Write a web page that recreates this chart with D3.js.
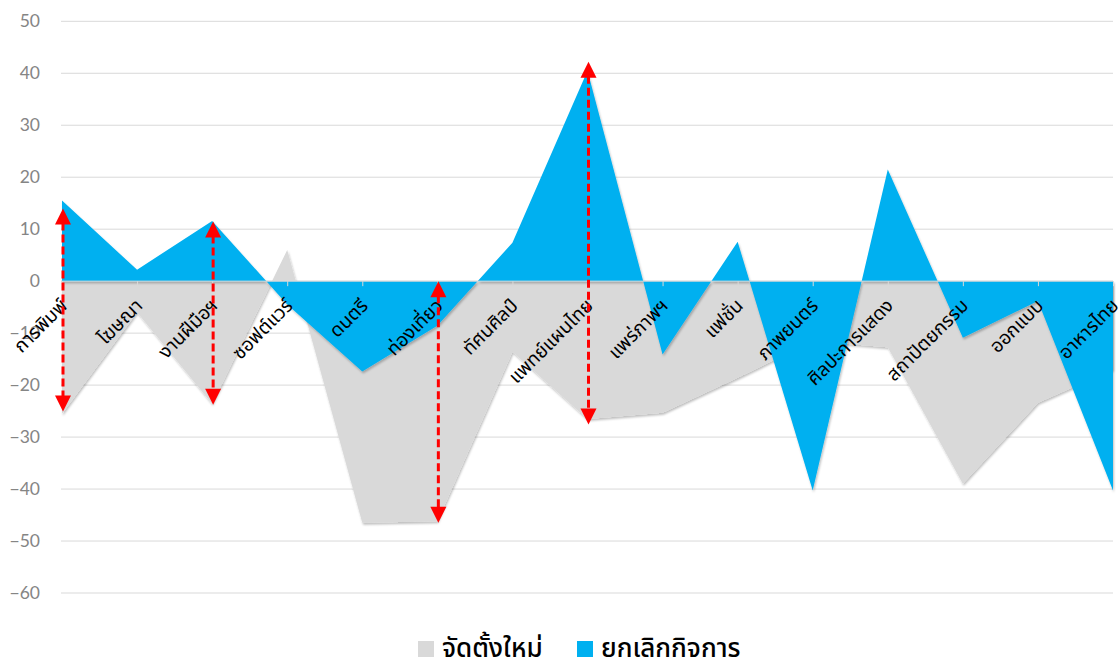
<!DOCTYPE html>
<html>
<head>
<meta charset="utf-8">
<script src="https://cdn.jsdelivr.net/npm/d3@7"></script>
<style>
  html, body { margin: 0; padding: 0; background: #fff; }
  svg { display: block; }
  text { font-family: "Noto Sans Thai", "Noto Sans Thai Looped", "Loma", "Garuda", "Noto Sans", "DejaVu Sans", sans-serif; }
</style>
</head>
<body>
<svg id="chart" width="1118" height="660"></svg>
<script>
// ---- data ----
const categories = ["การพิมพ์", "โฆษณา", "งานฝีมือฯ", "ซอฟต์แวร์", "ดนตรี", "ท่องเที่ยว", "ทัศนศิลป์", "แพทย์แผนไทย", "แพร่ภาพฯ", "แฟชั่น", "ภาพยนตร์", "ศิลปะการแสดง", "สถาปัตยกรรม", "ออกแบบ", "อาหารไทย"];
const newBusiness = [-25.5, -6, -23.6, 6, -46.5, -46.2, -13.6, -26.5, -25.3, -18.6, -11.5, -12.7, -39, -23.4, -17];
const closedBusiness = [15.5, 2.2, 11.6, -4.5, -17.4, -8.6, 7.4, 40.5, -14.1, 7.6, -40.3, 21.5, -10.9, -3.8, -40.3];
const seriesNames = ["จัดตั้งใหม่", "ยกเลิกกิจการ"];
const yTicks = [50, 40, 30, 20, 10, 0, -10, -20, -30, -40, -50, -60];
// annotation arrows (dashed, double-headed)
const arrowCategories = ["การพิมพ์", "งานฝีมือฯ", "ท่องเที่ยว", "แพทย์แผนไทย"];
const arrowTop = [14, 11.5, 0, 42.2];
const arrowBottom = [-25.1, -23.8, -46.5, -27.6];

// ---- layout ----
const svg = d3.select("#chart");
const colors = ["#D9D9D9", "#00B0F0"];

const x = d3.scalePoint().domain(categories).range([62, 1113]).padding(0);
const y = d3.scaleLinear().domain([-60, 50]).range([593, 21.3]);

const defs = svg.append("defs");
const f = defs.append("filter").attr("id", "shadow").attr("x", "-5%").attr("y", "-5%").attr("width", "110%").attr("height", "115%");
f.append("feDropShadow").attr("dx", 1).attr("dy", 2).attr("stdDeviation", 1.2).attr("flood-color", "#000").attr("flood-opacity", 0.25);

// gridlines
svg.append("g").selectAll("line").data(yTicks).join("line")
  .attr("x1", 61).attr("x2", 1113)
  .attr("y1", d => y(d)).attr("y2", d => y(d))
  .attr("stroke", "#D9D9D9").attr("stroke-width", 1);

// y axis labels
const yAxis = d3.axisLeft(y).tickValues(yTicks).tickSize(0).tickPadding(0)
  .tickFormat(d => d < 0 ? "−" + Math.abs(d) : String(d));
const gy = svg.append("g").attr("transform", "translate(40,0)").call(yAxis);
gy.select(".domain").remove();
gy.selectAll("text").attr("fill", "#858585").attr("font-size", 17.5)
  .style("font-family", "Lato, 'Noto Sans', sans-serif");

// areas
const area = d3.area().x((d, i) => x(categories[i])).y0(y(0)).y1(d => y(d));
svg.append("path").datum(newBusiness).attr("d", area).attr("fill", colors[0]).attr("filter", "url(#shadow)");
svg.append("path").datum(closedBusiness).attr("d", area).attr("fill", colors[1]).attr("filter", "url(#shadow)");

// category axis on zero line
const xAxis = d3.axisBottom(x).tickSize(5).tickFormat("");
const gx = svg.append("g").attr("transform", `translate(0,${y(0)})`).call(xAxis);
gx.select(".domain").attr("stroke", "#D9D9D9").attr("d", `M61,0H1113`);
gx.selectAll(".tick line").attr("stroke", "#D9D9D9");

// category labels rotated
svg.append("g").selectAll("text").data(categories).join("text")
  .attr("transform", d => `translate(${x(d) + 2},${y(0) + 21}) rotate(-45)`)
  .attr("text-anchor", "end")
  .attr("dy", "0.35em")
  .attr("font-size", 19)
  .attr("fill", "#000")
  .text(d => d);

// arrows
const arrowG = svg.append("g");
arrowCategories.forEach((c, i) => {
  const cx = x(c) + 1;
  const yt = y(arrowTop[i]), yb = y(arrowBottom[i]);
  const head = 16, hw = 8;
  arrowG.append("line")
    .attr("x1", cx).attr("x2", cx)
    .attr("y1", yt + head - 2).attr("y2", yb - head + 2)
    .attr("stroke", "#FF0000").attr("stroke-width", 3)
    .attr("stroke-dasharray", "8,4");
  arrowG.append("path")
    .attr("d", `M${cx},${yt} L${cx - hw},${yt + head} L${cx + hw},${yt + head} Z`)
    .attr("fill", "#FF0000");
  arrowG.append("path")
    .attr("d", `M${cx},${yb} L${cx - hw},${yb - head} L${cx + hw},${yb - head} Z`)
    .attr("fill", "#FF0000");
});

// legend
const legend = svg.append("g").attr("transform", "translate(0,648)");
const legendItems = [{ name: seriesNames[0], color: colors[0], x: 418 }, { name: seriesNames[1], color: colors[1], x: 577 }];
legendItems.forEach(it => {
  legend.append("rect").attr("x", it.x).attr("y", -7).attr("width", 16).attr("height", 16).attr("fill", it.color);
  legend.append("text").attr("x", it.x + 24).attr("y", 0).attr("dy", "0.35em")
    .attr("font-size", 26).attr("font-weight", 500).attr("fill", "#000").text(it.name);
});
</script>
</body>
</html>
